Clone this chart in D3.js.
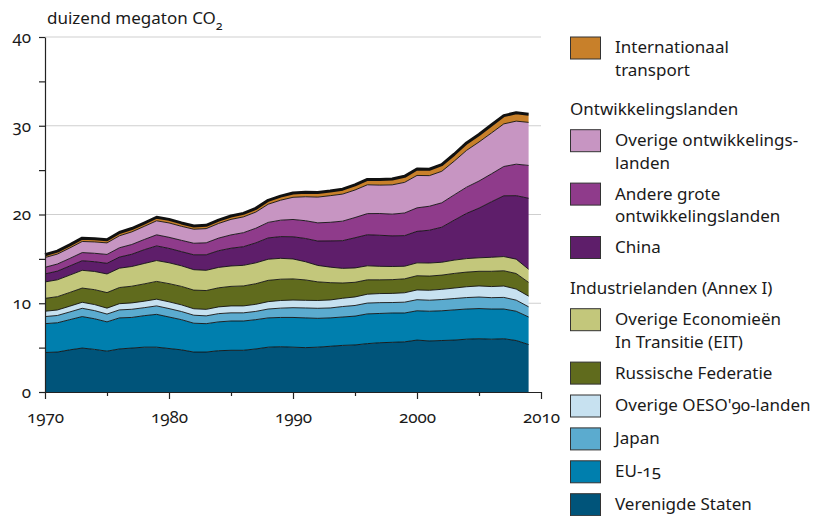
<!DOCTYPE html>
<html><head><meta charset="utf-8">
<script src="https://cdn.jsdelivr.net/npm/d3@7/dist/d3.min.js"></script>
<style>
body{margin:0;background:#fff;}
svg text{font-family:"Noto Sans","Open Sans",sans-serif;font-variant-numeric:oldstyle-nums;font-feature-settings:"onum" 1;fill:#1a1a1a;}
</style></head><body>
<svg id="c" width="817" height="516"></svg>
<script>
const years = [1970,1971,1972,1973,1974,1975,1976,1977,1978,1979,1980,1981,1982,1983,1984,1985,1986,1987,1988,1989,1990,1991,1992,1993,1994,1995,1996,1997,1998,1999,2000,2001,2002,2003,2004,2005,2006,2007,2008,2009];

const verenigdeStaten = [4.45,4.50,4.75,4.95,4.80,4.60,4.85,4.95,5.05,5.05,4.90,4.75,4.50,4.50,4.65,4.70,4.70,4.85,5.05,5.10,5.05,5.00,5.05,5.15,5.25,5.30,5.45,5.55,5.60,5.65,5.85,5.75,5.80,5.85,5.95,6.00,5.95,6.00,5.80,5.35];
const eu15 = [3.25,3.30,3.40,3.55,3.45,3.30,3.50,3.45,3.55,3.70,3.55,3.40,3.25,3.20,3.25,3.30,3.30,3.30,3.30,3.30,3.35,3.35,3.25,3.20,3.20,3.25,3.35,3.30,3.30,3.25,3.30,3.35,3.35,3.40,3.40,3.40,3.40,3.35,3.30,3.10];
const japan = [0.80,0.82,0.87,0.93,0.92,0.88,0.90,0.92,0.90,0.95,0.95,0.92,0.90,0.88,0.93,0.92,0.92,0.93,1.00,1.05,1.10,1.12,1.13,1.12,1.18,1.20,1.22,1.22,1.18,1.22,1.25,1.24,1.27,1.28,1.29,1.30,1.28,1.31,1.25,1.15];
const overigeOeso = [0.60,0.62,0.65,0.68,0.68,0.67,0.70,0.72,0.73,0.76,0.76,0.75,0.73,0.73,0.76,0.78,0.78,0.80,0.83,0.86,0.86,0.86,0.88,0.90,0.93,0.96,1.00,1.02,1.03,1.06,1.10,1.12,1.15,1.18,1.22,1.25,1.25,1.28,1.25,1.20];
const russischeFederatie = [1.45,1.50,1.55,1.60,1.68,1.75,1.82,1.88,1.95,2.00,2.05,2.08,2.10,2.12,2.15,2.20,2.25,2.32,2.40,2.40,2.38,2.30,2.10,1.95,1.72,1.65,1.62,1.55,1.55,1.57,1.60,1.60,1.60,1.65,1.65,1.65,1.72,1.72,1.75,1.55];
const overigeEit = [1.85,1.90,1.95,2.00,2.05,2.10,2.18,2.22,2.30,2.35,2.35,2.32,2.30,2.28,2.30,2.30,2.32,2.35,2.38,2.35,2.25,2.05,1.85,1.75,1.65,1.62,1.58,1.52,1.48,1.42,1.45,1.47,1.45,1.50,1.52,1.52,1.58,1.60,1.62,1.48];
const china = [0.90,0.98,1.03,1.08,1.10,1.20,1.25,1.38,1.55,1.65,1.62,1.60,1.68,1.75,1.88,2.00,2.10,2.25,2.40,2.45,2.50,2.62,2.75,2.95,3.12,3.40,3.50,3.50,3.45,3.45,3.55,3.70,3.95,4.50,5.10,5.60,6.25,6.85,7.15,8.00];
const andereGroteOl = [0.75,0.80,0.85,0.92,0.95,1.00,1.05,1.10,1.15,1.25,1.25,1.27,1.30,1.35,1.42,1.50,1.58,1.65,1.75,1.85,1.95,2.00,2.05,2.10,2.20,2.28,2.38,2.45,2.45,2.55,2.65,2.70,2.75,2.85,2.95,3.05,3.15,3.30,3.55,3.70];
const overigeOl = [1.10,1.12,1.18,1.25,1.28,1.30,1.35,1.42,1.48,1.58,1.62,1.58,1.58,1.60,1.65,1.75,1.78,1.82,2.05,2.25,2.50,2.70,2.90,3.00,3.05,3.10,3.25,3.20,3.30,3.45,3.65,3.45,3.55,3.80,4.15,4.40,4.60,4.80,4.85,4.85];
const internationaalTransport = [0.32,0.33,0.35,0.37,0.36,0.36,0.37,0.38,0.38,0.40,0.40,0.38,0.37,0.37,0.38,0.38,0.40,0.42,0.44,0.46,0.48,0.50,0.52,0.52,0.55,0.57,0.60,0.63,0.65,0.68,0.72,0.72,0.74,0.78,0.83,0.85,0.90,0.93,0.95,0.92];

const seriesKeys = ["Verenigde Staten","EU-15","Japan","Overige OESO'90-landen","Russische Federatie","Overige Economieën In Transitie (EIT)","China","Andere grote ontwikkelingslanden","Overige ontwikkelingslanden","Internationaal transport"];
const seriesValues = [verenigdeStaten,eu15,japan,overigeOeso,russischeFederatie,overigeEit,china,andereGroteOl,overigeOl,internationaalTransport];
const seriesColors = ["#00547a","#007fae","#5babcf","#c7e1f0","#606b1d","#c3c77b","#5e1e6a","#8f3b8b","#c795c2","#c8802a"];

const yTicks = [0,5,10,15,20,25,30,35,40];
const yLabels = [0,10,20,30,40];
const gridValues = [10,20,30,40];
const xTicks = [1970,1975,1980,1985,1990,1995,2000,2005,2010];
const xLabels = [1970,1980,1990,2000,2010];

const legendEntries = [
  {type:"item", idx:9, lines:["Internationaal","transport"]},
  {type:"header", text:"Ontwikkelingslanden"},
  {type:"item", idx:8, lines:["Overige ontwikkelings-","landen"]},
  {type:"item", idx:7, lines:["Andere grote","ontwikkelingslanden"]},
  {type:"item", idx:6, lines:["China"]},
  {type:"header", text:"Industrielanden (Annex I)"},
  {type:"item", idx:5, lines:["Overige Economieën","In Transitie (EIT)"]},
  {type:"item", idx:4, lines:["Russische Federatie"]},
  {type:"item", idx:3, lines:["Overige OESO'90-landen"]},
  {type:"item", idx:2, lines:["Japan"]},
  {type:"item", idx:1, lines:["EU-15"]},
  {type:"item", idx:0, lines:["Verenigde Staten"]}
];

const svg = d3.select("#c");
const x = d3.scaleLinear().domain([1970,2010]).range([45,541]);
const y = d3.scaleLinear().domain([0,40]).range([392,37]);

const rows = years.map((yr,i)=>{const o={year:yr}; seriesKeys.forEach((k,j)=>o[k]=seriesValues[j][i]); return o;});
const stacked = d3.stack().keys(seriesKeys)(rows);

// grid
svg.append("g").selectAll("line").data(gridValues).join("line")
  .attr("x1",x(1970)).attr("x2",x(2010)).attr("y1",d=>y(d)).attr("y2",d=>y(d))
  .attr("stroke","#cfcfcf").attr("stroke-width",1.2);

// areas
const area = d3.area().x(d=>x(d.data.year)).y0(d=>y(d[0])).y1(d=>y(d[1]));
svg.append("g").selectAll("path").data(stacked).join("path")
  .attr("fill",(d,i)=>seriesColors[i]).attr("d",area);

// boundaries
const line = d3.line().x(d=>x(d.data.year)).y(d=>y(d[1]));
svg.append("g").selectAll("path").data(stacked).join("path")
  .attr("fill","none").attr("stroke","#111")
  .attr("stroke-linejoin","round")
  .attr("stroke-width",(d,i)=>i===stacked.length-1?3:0.9)
  .attr("d",line);

// y axis
const yAxis = svg.append("g").attr("transform",`translate(${x(1970)},0)`)
  .call(d3.axisLeft(y).tickValues(yTicks).tickSize(6).tickSizeOuter(0).tickPadding(8)
    .tickFormat(d=>yLabels.includes(d)?d:""));
yAxis.selectAll("text").style("font-size","17px");
yAxis.selectAll("line,path").attr("stroke","#222").attr("stroke-width",1.2);

// x axis
const xAxis = svg.append("g").attr("transform",`translate(0,${y(0)})`)
  .call(d3.axisBottom(x).tickValues(xTicks).tickSize(7).tickSizeOuter(0).tickPadding(12)
    .tickFormat(d=>xLabels.includes(d)?d:""));
xAxis.selectAll(".tick line").attr("y2",d=>xLabels.includes(d)?7:4);
xAxis.selectAll("text").style("font-size","17px");
xAxis.selectAll("line,path").attr("stroke","#222").attr("stroke-width",1.2);

// title
const t = svg.append("text").attr("x",47).attr("y",24).style("font-size","17px");
t.append("tspan").text("duizend megaton CO");
t.append("tspan").attr("dy",6).style("font-size","12.5px").text("2");

// legend
const lg = svg.append("g");
let cy = 37;
legendEntries.forEach(e=>{
  if(e.type==="header"){
    lg.append("text").attr("x",570).attr("y",cy+19).attr("dy","0.32em").style("font-size","17px").text(e.text);
    cy += 39.3;
  } else {
    lg.append("rect").attr("x",570.5).attr("y",cy).attr("width",30).attr("height",22)
      .attr("fill",seriesColors[e.idx]).attr("stroke","#333").attr("stroke-width",1);
    e.lines.forEach((ln,k)=>{
      lg.append("text").attr("x",615).attr("y",cy+11+k*22.5).attr("dy","0.32em").style("font-size","17px").text(ln);
    });
    cy += 32.9 + (e.lines.length-1)*20.5;
  }
});
</script>
</body></html>
